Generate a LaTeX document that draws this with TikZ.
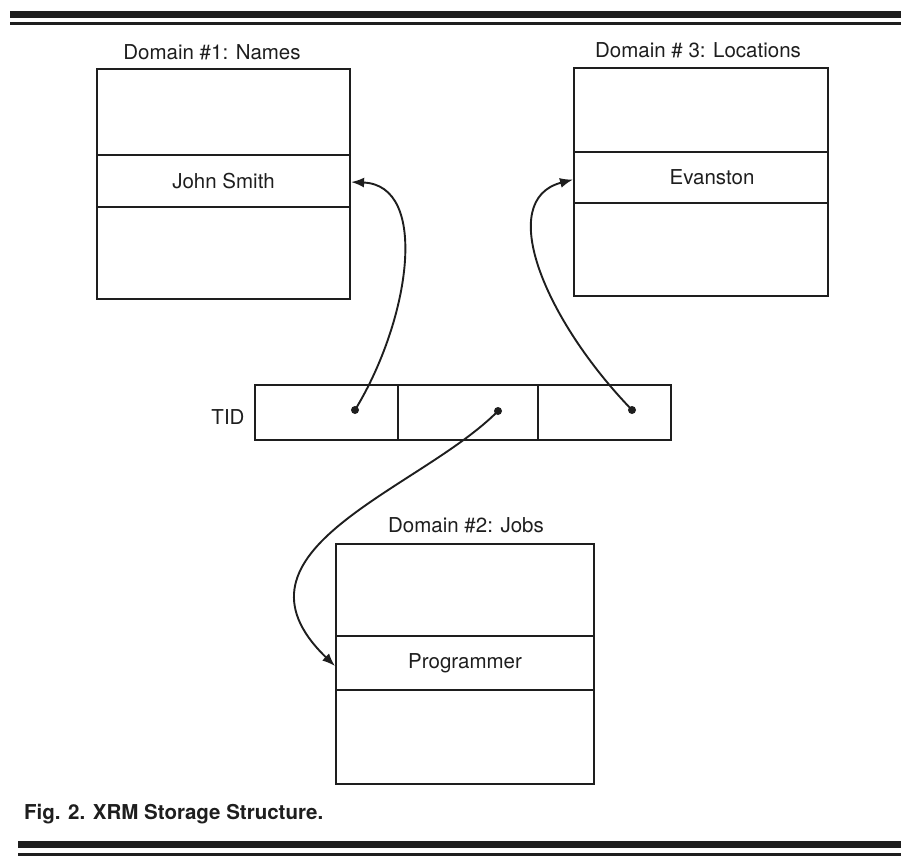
\documentclass[tikz,border=0pt]{standalone}
\usepackage{fontspec}
\setmainfont{TeX Gyre Heros}
\usetikzlibrary{arrows.meta}
\definecolor{ink}{HTML}{1E1E1E}
\begin{document}
\begin{tikzpicture}[x=1pt,y=-1pt,
  every node/.style={font=\fontsize{20.5}{24}\selectfont, text=ink},
  cell/.style={draw=ink, line width=2.1pt, inner sep=0pt, anchor=north west},
  lbl/.style={inner sep=0pt},
  dotn/.style={circle, fill=ink, inner sep=0pt, minimum size=8pt},
  arr/.style={draw=ink, line width=1.9pt, -{Latex[length=13pt,width=10pt]}},
  rulethick/.style={draw=ink, line width=7pt},
  rulethin/.style={draw=ink, line width=2.8pt}]
\useasboundingbox (0,0) rectangle (901,857);
% rules
\coordinate (rtl) at (10,14); \coordinate (rtr) at (901,14);
\coordinate (rsl) at (10,23.5); \coordinate (rsr) at (901,23.5);
\coordinate (rbl) at (18,844.5); \coordinate (rbr) at (901,844.5);
\coordinate (rcl) at (18,854.5); \coordinate (rcr) at (901,854.5);
\draw[rulethick] (rtl) -- (rtr);
\draw[rulethin] (rsl) -- (rsr);
\draw[rulethick] (rbl) -- (rbr);
\draw[rulethin] (rcl) -- (rcr);
% Domain 1
\node[lbl] (l1) at (212,52) {Domain \#1: Names};
\node[cell, minimum width=253pt, minimum height=86pt] (a1) at (96,68) {};
\node[cell, minimum width=253pt, minimum height=52pt] (a2) at (96,154) {John Smith};
\node[cell, minimum width=253pt, minimum height=92pt] (a3) at (96,206) {};
% Domain 3
\node[lbl] (l3) at (698,50) {Domain \# 3: Locations};
\node[cell, minimum width=254pt, minimum height=84pt] (c1) at (573,67) {};
\node[cell, minimum width=254pt, minimum height=51pt] (c2) at (573,151) {\hspace*{22pt}Evanston};
\node[cell, minimum width=254pt, minimum height=93pt] (c3) at (573,202) {};
% TID
\node[lbl] (tid) at (228,417) {TID};
\node[cell, minimum width=143pt, minimum height=55pt] (t1) at (254,384) {};
\node[cell, minimum width=140pt, minimum height=55pt] (t2) at (397,384) {};
\node[cell, minimum width=133pt, minimum height=55pt] (t3) at (537,384) {};
\node[dotn] (d1) at (355,410) {};
\node[dotn] (d2) at (498,411) {};
\node[dotn] (d3) at (632,410) {};
% Domain 2
\node[lbl] (l2) at (466,525) {Domain \#2: Jobs};
\node[cell, minimum width=258pt, minimum height=92pt] (b1) at (335,543) {};
\node[cell, minimum width=258pt, minimum height=54pt] (b2) at (335,635) {Programmer};
\node[cell, minimum width=258pt, minimum height=94pt] (b3) at (335,689) {};
% caption
\node[lbl, anchor=west, font=\fontsize{20.5}{24}\selectfont\bfseries] (cap) at (24,814) {Fig. 2. XRM Storage Structure.};
% connectors
\draw[arr] (d1.center) .. controls (410,320) and (430,185) .. ([yshift=-1pt]a2.east);
\draw[arr] (d3.center) .. controls (545,320) and (495,200) .. ([yshift=-2pt]c2.west);
\draw[arr] (d2.center) .. controls (420,490) and (215,550) .. ([yshift=-3pt]b2.west);
\end{tikzpicture}
\end{document}
